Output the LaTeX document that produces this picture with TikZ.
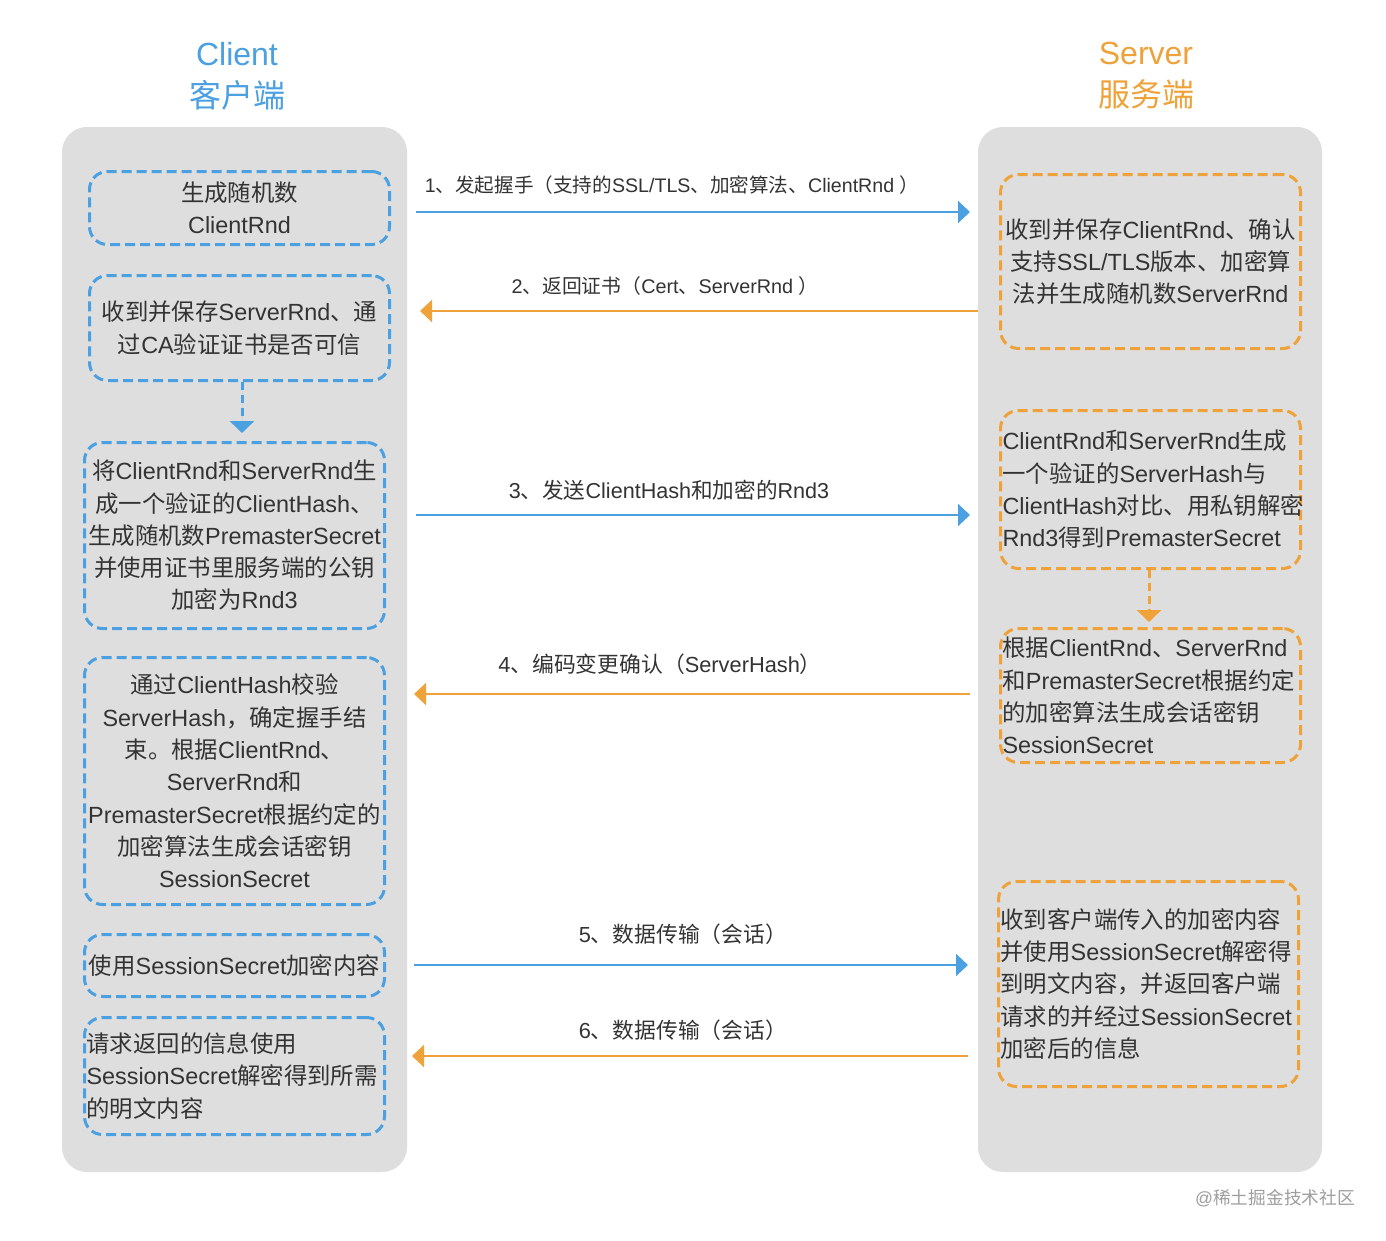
\documentclass[tikz,border=0pt]{standalone}
\usepackage{fontspec}
\setmainfont{Liberation Sans}
\newfontfamily\latfont{Liberation Sans}
\newfontfamily\hanfont{Noto Sans CJK SC}
\XeTeXinterchartokenstate=1
\newXeTeXintercharclass\hanclass
\newcount\hancnt
\hancnt="4E00 \loop\ifnum\hancnt<"A000 \XeTeXcharclass\hancnt=\hanclass \advance\hancnt by 1 \repeat
\hancnt="3000 \loop\ifnum\hancnt<"3040 \XeTeXcharclass\hancnt=\hanclass \advance\hancnt by 1 \repeat
\hancnt="FF00 \loop\ifnum\hancnt<"FFF0 \XeTeXcharclass\hancnt=\hanclass \advance\hancnt by 1 \repeat
\XeTeXinterchartoks 0 \hanclass = {\hanfont}
\XeTeXinterchartoks 4095 \hanclass = {\hanfont}
\XeTeXinterchartoks \hanclass 0 = {\latfont}
\XeTeXinterchartoks \hanclass 4095 = {\latfont}
\usetikzlibrary{arrows.meta,positioning}
\definecolor{cblue}{RGB}{75,160,225}
\definecolor{corange}{RGB}{239,162,58}
\definecolor{panelgray}{RGB}{222,222,222}
\definecolor{txtgray}{RGB}{51,51,51}
\tikzset{
  panel/.style={fill=panelgray, rounded corners=25pt, inner sep=0pt},
  side/.style={font=\fontsize{32}{42}\selectfont, align=center, inner sep=0pt},
  stepbox/.style={line width=3pt, dash pattern=on 10pt off 5pt, rounded corners=18pt,
    text=txtgray, font=\fontsize{23.4}{32.3}\selectfont, inner xsep=2pt, inner ysep=0pt,
    text width=296pt, minimum width=300pt},
  cbox/.style={stepbox, draw=cblue},
  sbox/.style={stepbox, draw=corange},
  msg/.style={text=txtgray, inner sep=0pt},
  tosrv/.style={draw=cblue, line width=2pt, -{Triangle[length=12pt,width=22pt]}},
  tocli/.style={draw=corange, line width=2pt, -{Triangle[length=12pt,width=22pt]}},
  hop/.style={line width=3pt, dash pattern=on 8pt off 5pt, -{Triangle[length=12pt,width=24pt]}}
}
\begin{document}
\begin{tikzpicture}[x=1pt,y=-1pt]
\path[fill=white, use as bounding box] (0,0) rectangle (1386,1240);
\node[panel, minimum width=345pt, minimum height=1045pt] (lpanel) at (234.5,649.5) {};
\node[panel, minimum width=344pt, minimum height=1045pt] (rpanel) at (1150,649.5) {};
\node[side, text=cblue] (client) at (237,76) {Client\\客户端};
\node[side, text=corange] (server) at (1146,76) {Server\\服务端};

\node[cbox, align=center, minimum height=73pt] (cl1) at (239.5,208) {生成随机数\\ClientRnd};
\node[cbox, align=center, minimum height=105pt] (cl2) at (239.5,328) {收到并保存ServerRnd、通\\过CA验证证书是否可信};
\node[cbox, align=center, minimum height=186pt] (cl3) at (234.5,535.5) {将ClientRnd和ServerRnd生\\成一个验证的ClientHash、\\生成随机数PremasterSecret\\并使用证书里服务端的公钥\\加密为Rnd3};
\node[cbox, align=center, minimum height=247pt] (cl4) at (234.5,781) {通过ClientHash校验\\ServerHash，确定握手结\\束。根据ClientRnd、\\ServerRnd和\\PremasterSecret根据约定的\\加密算法生成会话密钥\\SessionSecret};
\node[cbox, align=center, minimum height=62pt] (cl5) at (234.5,965.5) {使用SessionSecret加密内容};
\node[cbox, align=left, minimum height=117pt] (cl6) at (234.5,1076) {请求返回的信息使用\\SessionSecret解密得到所需\\的明文内容};

\node[sbox, align=center, minimum height=174pt] (sv1) at (1150.5,261.5) {收到并保存ClientRnd、确认\\支持SSL/TLS版本、加密算\\法并生成随机数ServerRnd};
\node[sbox, align=left, minimum height=158pt] (sv2) at (1150.5,489.5) {ClientRnd和ServerRnd生成\\一个验证的ServerHash与\\ClientHash对比、用私钥解密\\Rnd3得到PremasterSecret};
\node[sbox, align=left, minimum height=134pt] (sv3) at (1150.5,695.5) {根据ClientRnd、ServerRnd\\和PremasterSecret根据约定\\的加密算法生成会话密钥\\SessionSecret};
\node[sbox, align=left, minimum height=205pt] (sv4) at (1148.5,984) {收到客户端传入的加密内容\\并使用SessionSecret解密得\\到明文内容，并返回客户端\\请求的并经过SessionSecret\\加密后的信息};

\draw[hop, draw=cblue, fill=cblue] ([xshift=2.5pt]cl2.south) -- ([xshift=7.5pt,yshift=8pt]cl3.north);
\draw[hop, draw=corange, fill=corange] ([xshift=-1.5pt]sv2.south) -- ([xshift=-1.5pt,yshift=5pt]sv3.north);

\coordinate (a1) at (416,212);  \coordinate (b1) at (970,212);
\coordinate (a2) at (978,311);  \coordinate (b2) at (420,311);
\coordinate (a3) at (416,515);  \coordinate (b3) at (970,515);
\coordinate (a4) at (970,694);  \coordinate (b4) at (414,694);
\coordinate (a5) at (414,965);  \coordinate (b5) at (968,965);
\coordinate (a6) at (968,1056); \coordinate (b6) at (412,1056);
\draw[tosrv] (a1) -- (b1);
\draw[tocli] (a2) -- (b2);
\draw[tosrv] (a3) -- (b3);
\draw[tocli] (a4) -- (b4);
\draw[tosrv] (a5) -- (b5);
\draw[tocli] (a6) -- (b6);
\node[msg, font=\fontsize{19.6}{24}\selectfont] (m1) at (672,185) {1、发起握手（支持的SSL/TLS、加密算法、ClientRnd ）};
\node[msg, font=\fontsize{19.8}{24}\selectfont] (m2) at (665,286) {2、返回证书（Cert、ServerRnd ）};
\node[msg, font=\fontsize{21.6}{26}\selectfont] (m3) at (669,490) {3、发送ClientHash和加密的Rnd3};
\node[msg, font=\fontsize{21.8}{26}\selectfont] (m4) at (660,664) {4、编码变更确认（ServerHash）};
\node[msg, font=\fontsize{21.8}{26}\selectfont] (m5) at (683,934) {5、数据传输（会话）};
\node[msg, font=\fontsize{21.8}{26}\selectfont] (m6) at (683,1030) {6、数据传输（会话）};
\node[inner sep=0pt, text=black!38, font=\fontsize{17.7}{20}\selectfont] (mark) at (1275,1198) {@稀土掘金技术社区};
\end{tikzpicture}
\end{document}
